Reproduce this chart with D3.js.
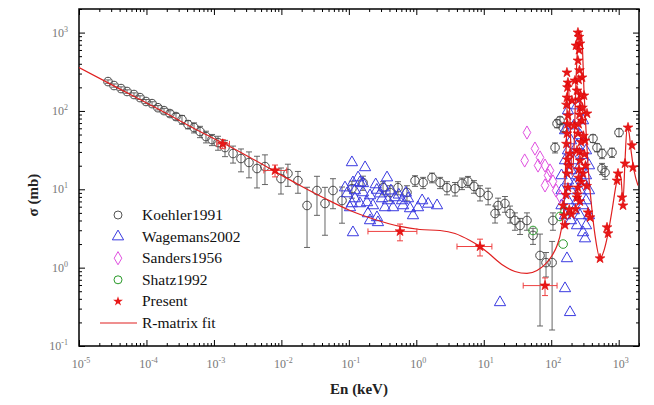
<!DOCTYPE html>
<html><head><meta charset="utf-8">
<script src="https://cdn.jsdelivr.net/npm/d3@7"></script>
<style>body{margin:0;background:#fff}svg{display:block}</style>
</head><body><svg id="c" width="654" height="405"></svg>
<script>
// ---- data (En in keV, sigma in mb) ----
const xTickExps = [-5,-4,-3,-2,-1,0,1,2,3];
const yTickExps = [-1,0,1,2,3];
const legendLabels = ["Koehler1991","Wagemans2002","Sanders1956","Shatz1992","Present","R-matrix fit"];

// Koehler1991: [En, sigma, err]
const koehler = [
[2.69e-5,237,12],[3.30e-5,211,10],[4.20e-5,193,10],[5.15e-5,177,9],[6.53e-5,162,8],[8.02e-5,148,8],
[9.84e-5,132,8],[1.21e-4,124,7],[1.48e-4,110,7],[1.82e-4,101,7],[2.23e-4,92.6,8],[2.74e-4,84.8,8],
[3.36e-4,77.6,10],[4.13e-4,67.1,8],[5.07e-4,61.4,9],[6.22e-4,54.6,9],[7.63e-4,47.1,8],[9.37e-4,43.1,7],
[1.15e-3,39.5,8],[1.46e-3,34.1,8],[1.92e-3,28.6,7],[2.52e-3,24.7,8],[3.31e-3,22.0,8],[4.35e-3,18.4,8],
[5.71e-3,19.5,8],[9.86e-3,13.7,5],[1.25e-2,15.9,5],[1.76e-2,12.9,4],[2.40e-2,6.21,4.4],[3.37e-2,9.65,5],
[4.43e-2,6.59,4],[5.82e-2,9.65,4],[7.92e-2,7.19,3.5],[0.111,10.2,2.5],[0.162,12.2,2.5],[0.321,10.5,2],
[0.408,9.1,2],[0.535,10.5,2],[0.727,9.1,2],[0.957,12.9,2],[1.26,12.2,2],[1.71,14.1,2],[2.25,12.2,2],
[2.85,10.5,2],[3.75,10.2,2],[4.76,11.9,2],[5.83,12.6,2],[7.16,10.9,2],[8.8,9.1,2],[11.6,8.33,2],
[14.7,4.91,1.2],[16.3,6.21,1.5],[20.6,6.59,1.5],[24.5,4.91,1.2],[29.0,4.0,1],[34.5,3.45,0.8],
[43.7,4.0,1],[53.7,2.58,0.6],[68.2,1.43,1.25],[83.7,1.16,0.4],[103,1.16,1.0],[106,4.0,1],
[114,34.1,5],[122,69,8],[135,75.5,8],[150,61.4,8],[416,44.5,5],[477,34.1,4],[566,28.6,4],
[796,29.5,4],[566,18.4,3],[627,16.4,3],[1011,53,6]
];

// Wagemans2002: [En, sigma]
const wagemans = [
[0.111,22.0],[0.174,19.0],[0.137,14.1],[0.115,12.2],[0.162,11.9],[0.123,9.65],[0.162,9.10],[0.206,8.33],
[0.123,7.63],[0.111,6.59],[0.146,6.59],[0.186,6.79],[0.228,6.21],[0.310,7.63],[0.368,14.1],[0.380,7.19],
[0.483,7.86],[0.614,7.19],[0.753,7.63],[0.635,6.21],[0.192,4.91],[0.261,4.37],[0.270,3.78],[0.206,4.00],
[0.343,5.86],[0.452,5.86],[0.807,5.69],[0.893,4.63],[1.22,7.19],[1.06,5.86],[0.115,2.81],[0.0877,10.5],
[0.094,8.83],[0.104,5.86],[2.03,6.21],[0.146,12.2],[0.26,9.8],[0.29,8.8],[0.42,9.6],[0.55,8.5],
[0.70,9.0],[1.5,6.5],[0.25,11.5],[0.33,10.5],[17.4,0.36],[171,1.31],[160,0.543],[190,0.269],[296,2.81],
[317,2.35],
[142,6.21],[142,9.65],[142,15.0],[160,4.63],[160,23.3],[160,56.3],[177,7.19],[177,12.9],[177,31.2],
[177,101],[196,4.0],[196,9.65],[196,17.4],[196,41.9],[217,5.36],[217,11.2],[217,23.3],[217,65],
[241,3.45],[241,7.19],[241,15.0],[241,36.3],[241,117],[267,4.63],[267,9.65],[267,20.1],[267,48.6],
[296,6.21],[296,12.9],[296,27.1],[296,75.5],[328,3.45],[328,7.19],[328,15.0],[328,31.2],[363,4.63],
[363,9.65],[363,20.1]
];

// Sanders1956: [En, sigma]
const sanders = [
[43.7,53.0],[40.4,23.3],[57.4,33.1],[68.2,25.5],[80.9,20.1],[89.6,15.0],[106,12.6],[118,9.65],
[135,8.09],[80.9,11.2],[63.7,20.1],[95.9,17.4]
];

// Shatz1992: [En, sigma]
const shatz = [[53.7,2.98],[160,5.21],[135,4.50],[150,2.0]];

// Present with error bars: [En, sigma, xLo, xHi, yErr]
const presentErr = [
[1.35e-3,38,1.1e-3,1.7e-3,5],[8.05e-3,17.4,5.5e-3,1.2e-2,3],[0.573,2.9,0.192,1.02,0.7],
[8.8,1.86,4.01,13.2,0.45],[80.9,0.59,38.4,122,0.15]
];
// Present, resonance region: [En, sigma]
const present = [
[171,309],[177,230],[171,148],[177,87.3],[171,51.5],[190,28.6],[171,15.9],[177,10.5],[249,1000],[267,724],
[249,439],[286,267],[241,182],[267,110],[286,75.5],[249,51.5],[241,31.2],[267,23.3],[296,15.9],[249,10.5],
[241,7.86],[339,92.6],[317,41.9],[150,6.21],[155,4.63],[351,5.06],[376,4.37],[529,1.31],[695,2.73],
[1159,6.21],[1375,61.4],[1574,36.3],[1629,19.0],[1241,21.3],[944,12.9],[977,15.9],[1120,7.86],[671,3.26],
[203,136],[217,65.3],[225,244],[306,157],[233,682],[174,200],[168,120],[174,68],[168,38],[174,24],
[180,20],[166,8.5],[258,880],[258,600],[262,330],[255,250],[272,160],[258,140],[262,90],[255,68],
[276,40],[262,30],[258,18],[280,12.5],[255,14],[290,110],[300,48],[310,28],[322,20],[335,11],[245,8.6],
[265,7.0],[230,5.6],[200,4.8],[160,3.5],[185,5.5]
];

// R-matrix fit curve: [En, sigma]
const rmatrix = [
[1e-5,358],[4.06e-5,190],[1.59e-4,103],[6.22e-4,54.6],[1.41e-3,38.4],[3.43e-3,25.5],[7.5e-3,17.4],
[1.89e-2,11.2],[4.43e-2,7.64],[0.104,5.37],[0.244,4.12],[0.573,3.36],[1.13,3.07],[2.25,2.98],[3.75,2.73],
[6.25,2.22],[8.8,1.86],[12.4,1.47],[19.3,1.07],[29.0,0.894],[43.7,0.843],[61.5,0.921],[80.9,1.10],
[103,1.43],[122,1.92],[140,2.98],[155,6.21],[166,31.2],[177,244],[190,75.5],[203,15.0],[217,31.2],
[233,244],[249,745],[267,1061],[286,791],[306,182],[328,56.3],[351,20.1],[389,7.19],[446,2.58],
[529,1.31],[606,1.66],[695,2.73],[796,5.36],[912,11.2],[1011,16.4],[1082,13.7],[1159,7.19],[1241,23.3],
[1328,59.7],[1422,53.0],[1524,31.2],[1686,17.4],[1932,11.2]
];

// ---- chart ----
const FONT = "Liberation Serif, Times New Roman, Times, Tinos, DejaVu Serif, Noto Serif, serif";
const svg = d3.select("#c").attr("font-family", FONT);
const L=79, R=639, T=9, B=346;
const x = d3.scaleLog().domain([1e-5,2000]).range([L,R]);
const y = d3.scaleLog().domain([0.1,2000]).range([B,T]);

function ticksFor(dom){
  const maj=[],min=[];
  for(let e=Math.floor(Math.log10(dom[0]));e<=Math.ceil(Math.log10(dom[1]));e++){
    for(let m=1;m<10;m++){const v=m*Math.pow(10,e); if(v<dom[0]*0.999||v>dom[1]*1.001)continue; (m===1?maj:min).push(v);}
  }
  return {maj,min};
}
const xt=ticksFor(x.domain()), yt=ticksFor(y.domain());
function drawAxis(gen, scale, tv, pos, size){
  svg.append("g").attr("transform",pos).call(gen(scale).tickValues(tv).tickSize(size).tickFormat(""))
    .call(g=>{g.select(".domain").remove(); g.selectAll("line").attr("stroke","#000").attr("stroke-width",1);});
}
drawAxis(d3.axisBottom,x,xt.maj,`translate(0,${B})`,-6);
drawAxis(d3.axisBottom,x,xt.min,`translate(0,${B})`,-3);
drawAxis(d3.axisTop,x,xt.maj,`translate(0,${T})`,-6);
drawAxis(d3.axisTop,x,xt.min,`translate(0,${T})`,-3);
drawAxis(d3.axisLeft,y,yt.maj,`translate(${L},0)`,-6);
drawAxis(d3.axisLeft,y,yt.min,`translate(${L},0)`,-3);
drawAxis(d3.axisRight,y,yt.maj,`translate(${R},0)`,-6);
drawAxis(d3.axisRight,y,yt.min,`translate(${R},0)`,-3);

svg.append("rect").attr("x",L).attr("y",T).attr("width",R-L).attr("height",B-T)
  .attr("fill","none").attr("stroke","#000").attr("stroke-width",1.5);

// tick labels
xTickExps.forEach(e=>{
  const t=svg.append("text").attr("x",x(Math.pow(10,e))+2).attr("y",368).attr("text-anchor","middle")
    .attr("font-family",FONT).attr("font-size",12).attr("fill","#777");
  t.append("tspan").text("10");
  t.append("tspan").attr("dy",-5).attr("font-size",8).text(e);
});
yTickExps.forEach(e=>{
  const t=svg.append("text").attr("x",L-11).attr("y",y(Math.pow(10,e))+4).attr("text-anchor","end")
    .attr("font-family",FONT).attr("font-size",12).attr("fill","#777");
  t.append("tspan").text("10");
  t.append("tspan").attr("dy",-5).attr("font-size",8).text(e);
});

// axis titles
svg.append("text").attr("x",(L+R)/2).attr("y",394).attr("text-anchor","middle").attr("font-family",FONT)
  .attr("font-size",15).attr("font-weight","bold").attr("fill","#222").text("En  (keV)");
svg.append("text").attr("transform","translate(38,195) rotate(-90)").attr("text-anchor","middle").attr("font-family",FONT)
  .attr("font-size",15).attr("font-weight","bold").attr("fill","#222").text("σ  (mb)");

svg.append("clipPath").attr("id","clp").append("rect").attr("x",L).attr("y",T).attr("width",R-L).attr("height",B-T);
const plot = svg.append("g").attr("clip-path","url(#clp)");

// Koehler error bars and circles
const cap=3;
koehler.forEach(d=>{
  const cx=x(d[0]), lo=y(Math.max(d[1]-d[2],0.05)), hi=y(d[1]+d[2]);
  const g=plot.append("g").attr("stroke","#555").attr("stroke-width",0.9);
  g.append("line").attr("x1",cx).attr("x2",cx).attr("y1",lo).attr("y2",hi);
  g.append("line").attr("x1",cx-cap).attr("x2",cx+cap).attr("y1",lo).attr("y2",lo);
  g.append("line").attr("x1",cx-cap).attr("x2",cx+cap).attr("y1",hi).attr("y2",hi);
});
plot.selectAll("circle.k").data(koehler).join("circle").attr("cx",d=>x(d[0])).attr("cy",d=>y(d[1]))
  .attr("r",4.3).attr("fill","none").attr("stroke","#444").attr("stroke-width",1);

const tri=d3.symbol().type(d3.symbolTriangle).size(55);
plot.selectAll("path.w").data(wagemans).join("path").attr("d",tri)
  .attr("transform",d=>`translate(${x(d[0])},${y(d[1])})`).attr("fill","none").attr("stroke","#3a3ae0").attr("stroke-width",1);

const dia=d3.symbol().type(d3.symbolDiamond).size(50);
plot.selectAll("path.s").data(sanders).join("path").attr("d",dia)
  .attr("transform",d=>`translate(${x(d[0])},${y(d[1])})`).attr("fill","none").attr("stroke","#e050e0").attr("stroke-width",1);

plot.selectAll("circle.z").data(shatz).join("circle").attr("cx",d=>x(d[0])).attr("cy",d=>y(d[1]))
  .attr("r",4.3).attr("fill","none").attr("stroke","#2a9a2a").attr("stroke-width",1);

// R-matrix line
plot.append("path").datum(rmatrix).attr("d",d3.line().x(d=>x(d[0])).y(d=>y(d[1])).curve(d3.curveMonotoneX))
  .attr("fill","none").attr("stroke","#e02020").attr("stroke-width",1.2);

// Present error bars and stars
presentErr.forEach(d=>{
  const g=plot.append("g").attr("stroke","#ee4040").attr("stroke-width",1);
  const cx=x(d[0]), cy=y(d[1]);
  g.append("line").attr("x1",x(d[2])).attr("x2",x(d[3])).attr("y1",cy).attr("y2",cy);
  g.append("line").attr("x1",x(d[2])).attr("x2",x(d[2])).attr("y1",cy-cap).attr("y2",cy+cap);
  g.append("line").attr("x1",x(d[3])).attr("x2",x(d[3])).attr("y1",cy-cap).attr("y2",cy+cap);
  const lo=y(d[1]-d[4]),hi=y(d[1]+d[4]);
  g.append("line").attr("x1",cx).attr("x2",cx).attr("y1",lo).attr("y2",hi);
  g.append("line").attr("x1",cx-cap).attr("x2",cx+cap).attr("y1",lo).attr("y2",lo);
  g.append("line").attr("x1",cx-cap).attr("x2",cx+cap).attr("y1",hi).attr("y2",hi);
});
const star=d3.symbol().type(d3.symbolStar).size(30);
plot.selectAll("path.p").data(present.concat(presentErr)).join("path").attr("d",star)
  .attr("transform",d=>`translate(${x(d[0])},${y(d[1])})`).attr("fill","#e81818").attr("stroke","#d00").attr("stroke-width",0.6);

// legend
const lg=svg.append("g");
const ly0=215, ldy=21.6, lsx=118, ltx=142;
legendLabels.forEach((lab,i)=>{
  lg.append("text").attr("x",ltx).attr("y",ly0+i*ldy+5).attr("font-family",FONT).attr("font-size",15.5)
    .attr("fill","#111").text(lab);
});
lg.append("circle").attr("cx",lsx).attr("cy",ly0).attr("r",4).attr("fill","none").attr("stroke","#555");
lg.append("path").attr("d",tri).attr("transform",`translate(${lsx},${ly0+ldy})`).attr("fill","none").attr("stroke","#3a3ae0");
lg.append("path").attr("d",dia).attr("transform",`translate(${lsx},${ly0+2*ldy})`).attr("fill","none").attr("stroke","#e050e0");
lg.append("circle").attr("cx",lsx).attr("cy",ly0+3*ldy).attr("r",4).attr("fill","none").attr("stroke","#2a9a2a");
lg.append("path").attr("d",star).attr("transform",`translate(${lsx},${ly0+4*ldy})`).attr("fill","#e81818");
lg.append("line").attr("x1",100).attr("x2",137).attr("y1",ly0+5*ldy).attr("y2",ly0+5*ldy).attr("stroke","#e02020").attr("stroke-width",1.2);
</script></body></html>
